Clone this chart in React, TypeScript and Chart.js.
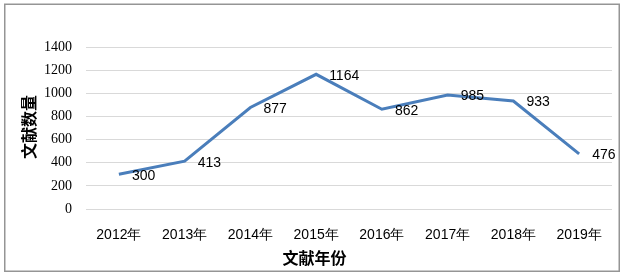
import React, { useEffect, useRef } from "react";
import { Chart, registerables } from "chart.js";

Chart.register(...registerables);

const categories = ["2012年", "2013年", "2014年", "2015年", "2016年", "2017年", "2018年", "2019年"];
const counts = [300, 413, 877, 1164, 862, 985, 933, 476];
const yTitle = "文献数量";
const xTitle = "文献年份";

const decorPlugin = {
  id: "decor",
  afterDatasetsDraw(chart: any) {
    const ctx = chart.ctx;
    const meta = chart.getDatasetMeta(0);
    ctx.save();
    ctx.font = "14px 'Liberation Sans', Arial, sans-serif";
    ctx.fillStyle = "#000";
    ctx.textAlign = "left";
    ctx.textBaseline = "middle";
    meta.data.forEach((pt: any, i: number) => {
      ctx.fillText(String(counts[i]), pt.x + 13, pt.y + 1.5);
    });
    ctx.restore();
  },
  afterDraw(chart: any) {
    const ctx = chart.ctx;
    ctx.save();
    ctx.strokeStyle = "#959595";
    ctx.lineWidth = 1.5;
    ctx.strokeRect(4.75, 4.25, 614.5, 267);
    ctx.fillStyle = "#000";
    ctx.font = "bold 16px 'Noto Sans CJK SC', sans-serif";
    ctx.textAlign = "center";
    ctx.textBaseline = "middle";
    ctx.fillText(xTitle, 314.5, 258);
    ctx.translate(28.5, 127);
    ctx.rotate(-Math.PI / 2);
    ctx.fillText(yTitle, 0, 0);
    ctx.restore();
  },
};

export default function App() {
  const ref = useRef<HTMLCanvasElement | null>(null);
  useEffect(() => {
    if (!ref.current) return;
    const chart = new Chart(ref.current, {
      type: "line",
      data: {
        labels: categories,
        datasets: [
          {
            data: counts,
            borderColor: "#4a7ebb",
            borderWidth: 3,
            pointRadius: 0,
            tension: 0,
            fill: false,
          },
        ],
      },
      options: {
        responsive: false,
        animation: false,
        devicePixelRatio: 1,
        layout: { padding: { top: 47, right: 11, bottom: 0, left: 0 } },
        plugins: { legend: { display: false }, tooltip: { enabled: false } },
        scales: {
          x: {
            offset: true,
            grid: { display: false, drawTicks: false },
            border: { display: false },
            ticks: {
              padding: 18,
              color: "#000",
              maxRotation: 0,
              autoSkip: false,
              font: { family: "Liberation Sans, Arial, sans-serif", size: 14 },
            },
            afterFit(scale: any) {
              scale.height = 66;
            },
          },
          y: {
            min: 0,
            max: 1400,
            grid: { color: "#d9d9d9", lineWidth: 1, drawTicks: false },
            border: { display: false },
            ticks: {
              stepSize: 200,
              padding: 14,
              color: "#000",
              callback: (v: any) => String(v),
              font: { family: "Liberation Serif, Times New Roman, serif", size: 14 },
            },
            afterFit(scale: any) {
              scale.width = 86;
            },
          },
        },
      },
      plugins: [decorPlugin],
    } as any);
    return () => chart.destroy();
  }, []);
  return (
    <div style={{ position: "fixed", left: 0, top: 0, width: 623, height: 275, background: "#fff" }}>
      <canvas ref={ref} width={623} height={275} style={{ display: "block", width: 623, height: 275 }} />
    </div>
  );
}
